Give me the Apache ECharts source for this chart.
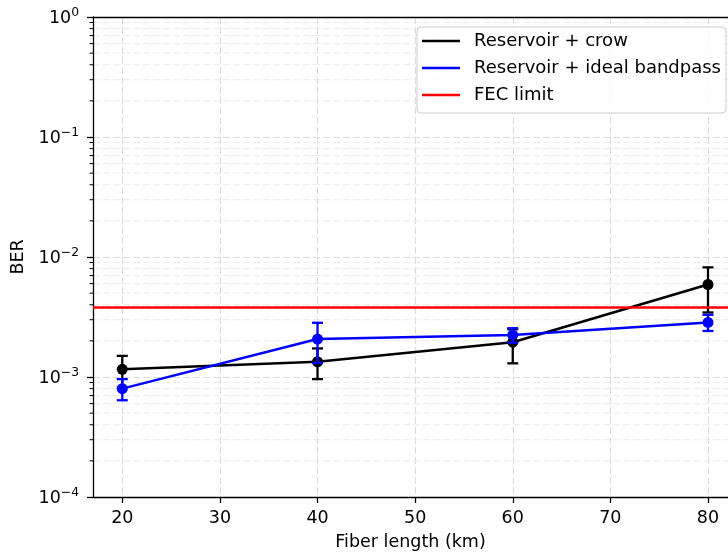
<!DOCTYPE html>
<html><head><meta charset="utf-8">
<script src="https://cdn.jsdelivr.net/npm/echarts@6/dist/echarts.min.js"></script>
<style>html,body{margin:0;padding:0;background:#fff}#c{width:728px;height:556px}</style>
</head><body><div id="c"></div><script>
// ---- data ----
const fiberLength = [20, 40, 60, 80];
const xTicks = [20, 30, 40, 50, 60, 70, 80];
const xRange = [17, 82.05];   // visible part of the axes (right side is cropped in the original)
const yRange = [1e-4, 1];
const crowBER  = [1.16e-3, 1.34e-3, 1.95e-3, 5.9e-3];
const crowLow  = [0.82e-3, 0.96e-3, 1.30e-3, 3.45e-3];
const crowHigh = [1.50e-3, 1.73e-3, 2.50e-3, 8.2e-3];
const bandBER  = [8.0e-4, 2.07e-3, 2.24e-3, 2.85e-3];
const bandLow  = [6.4e-4, 1.31e-3, 1.93e-3, 2.42e-3];
const bandHigh = [9.6e-4, 2.83e-3, 2.55e-3, 3.3e-3];
const fecLimit = 3.8e-3;
const seriesNames = ['Reservoir + crow', 'Reservoir + ideal bandpass', 'FEC limit'];
const xLabel = 'Fiber length (km)';
const yLabel = 'BER';

const FONT = 'DejaVu Sans';
const FS = 17.5;

// minor y values (2..9 x 10^k) for minor grid/ticks
const minorY = [];
for (let k = Math.log10(yRange[0]); k < Math.log10(yRange[1]); k++) {
  for (let m = 2; m <= 9; m++) minorY.push([xRange[0], m * Math.pow(10, k)]);
}

function errRender(color) {
  return function (params, api) {
    const x = api.value(0), lo = api.value(1), hi = api.value(2);
    const p1 = api.coord([x, lo]), p2 = api.coord([x, hi]);
    const cw = 5.5;
    const st = { stroke: color, lineWidth: 2.3 };
    return { type: 'group', children: [
      { type: 'line', shape: { x1: p1[0], y1: p1[1], x2: p2[0], y2: p2[1] }, style: st },
      { type: 'line', shape: { x1: p1[0] - cw, y1: p1[1], x2: p1[0] + cw, y2: p1[1] }, style: st },
      { type: 'line', shape: { x1: p2[0] - cw, y1: p2[1], x2: p2[0] + cw, y2: p2[1] }, style: st }
    ]};
  };
}

function minorRender(params, api) {
  const v = api.value(1);
  const a = api.coord([xRange[0], v]), b = api.coord([xRange[1], v]);
  return { type: 'group', children: [
    { type: 'line', shape: { x1: a[0], y1: a[1], x2: b[0], y2: b[1] },
      style: { stroke: '#ebebeb', lineWidth: 1, lineDash: [7, 3] } },
    { type: 'line', shape: { x1: a[0] - 3.5, y1: a[1], x2: a[0], y2: a[1] },
      style: { stroke: '#000', lineWidth: 1 } }
  ]};
}

const chart = echarts.init(document.getElementById('c'), null, { renderer: 'canvas' });
chart.setOption({
  animation: false,
  backgroundColor: '#fff',
  grid: { left: 93, top: 17, right: 0, bottom: 59, show: false },
  legend: {
    orient: 'vertical', left: 417, top: 27, selectedMode: false,
    data: seriesNames.map(n => ({ name: n, icon: 'rect' })),
    itemWidth: 38, itemHeight: 2.5, itemGap: 7,
    padding: [4, 5, 8, 5],
    backgroundColor: 'rgba(255,255,255,0.8)', borderColor: '#cccccc', borderWidth: 1, borderRadius: 4,
    textStyle: { fontFamily: FONT, fontSize: 18, color: '#000', lineHeight: 20, padding: [0, 0, 0, 9] }
  },
  xAxis: [{
    type: 'value', min: xRange[0], max: xRange[1],
    name: xLabel, nameLocation: 'middle', nameGap: 36,
    nameTextStyle: { fontFamily: FONT, fontSize: FS, color: '#000' },
    axisLine: { show: true, onZero: false, lineStyle: { color: '#000', width: 1.3 } },
    axisTick: { show: true, length: 6, customValues: xTicks, lineStyle: { color: '#000', width: 1.3 } },
    axisLabel: { margin: 12, customValues: xTicks, fontFamily: FONT, fontSize: FS, color: '#000' },
    splitLine: { show: true, lineStyle: { color: '#dadada', width: 1, type: [7, 3] } }
  }, {
    type: 'value', position: 'top', min: xRange[0], max: xRange[1],
    axisLine: { show: true, onZero: false, lineStyle: { color: '#000', width: 1.3 } },
    axisTick: { show: false }, axisLabel: { show: false }, splitLine: { show: false }
  }],
  yAxis: {
    type: 'log', logBase: 10, min: yRange[0], max: yRange[1],
    name: yLabel, nameLocation: 'middle', nameGap: 55,
    nameTextStyle: { fontFamily: FONT, fontSize: FS, color: '#000' },
    axisLine: { show: true, lineStyle: { color: '#000', width: 1.3 } },
    axisTick: { show: true, length: 6, lineStyle: { color: '#000', width: 1.3 } },
    axisLabel: {
      margin: 14,
      formatter: v => { const e = Math.round(Math.log10(v)); return '{b|10}{s|' + (e < 0 ? '\u2212' + (-e) : e) + '}'; },
      rich: {
        b: { fontFamily: FONT, fontSize: FS, color: '#000', lineHeight: 20, verticalAlign: 'bottom' },
        s: { fontFamily: FONT, fontSize: 12.3, color: '#000', lineHeight: 10, verticalAlign: 'top' }
      }
    },
    splitLine: { show: true, lineStyle: { color: '#dadada', width: 1, type: [7, 3] } }
  },
  series: [
    { name: 'minor', type: 'custom', renderItem: minorRender, data: minorY, encode: { x: 0, y: 1 }, z: 0, silent: true },
    { name: seriesNames[0], type: 'line', z: 3,
      data: fiberLength.map((x, i) => [x, crowBER[i]]),
      symbol: 'circle', symbolSize: 11, showSymbol: true,
      itemStyle: { color: '#000' }, lineStyle: { color: '#000', width: 2.5 } },
    { name: 'crowErr', type: 'custom', z: 3, renderItem: errRender('#000'),
      data: fiberLength.map((x, i) => [x, crowLow[i], crowHigh[i]]), encode: { x: 0, y: [1, 2] } },
    { name: seriesNames[1], type: 'line', z: 4,
      data: fiberLength.map((x, i) => [x, bandBER[i]]),
      symbol: 'circle', symbolSize: 11, showSymbol: true,
      itemStyle: { color: '#0000ff' }, lineStyle: { color: '#0000ff', width: 2.5 } },
    { name: 'bandErr', type: 'custom', z: 4, renderItem: errRender('#0000ff'),
      data: fiberLength.map((x, i) => [x, bandLow[i], bandHigh[i]]), encode: { x: 0, y: [1, 2] } },
    { name: seriesNames[2], type: 'line', z: 5, symbol: 'none',
      data: [[xRange[0], fecLimit], [xRange[1], fecLimit]],
      itemStyle: { color: '#ff0000' }, lineStyle: { color: '#ff0000', width: 2.5 } }
  ]
});
</script></body></html>
